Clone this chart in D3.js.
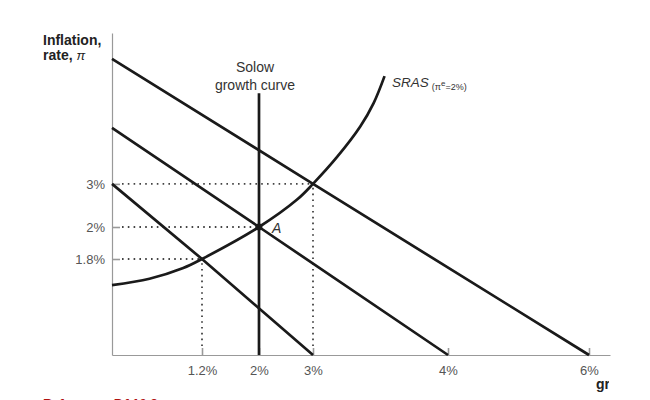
<!DOCTYPE html>
<html lang="en">
  <head>
    <meta charset="UTF-8" />
    <title>Solow growth curve and SRAS</title>
    <style>
      body {
        margin: 0;
        background: #fff;
      }
      svg text {
        font-family: "Liberation Sans", Arial, sans-serif;
      }
    </style>
  </head>
  <body>
    <div id="chart"></div>

    <script src="https://d3js.org/d3.v7.min.js"></script>
    <script>
      // growth rate g (%) on x, inflation pi (%) on y
      const gTicks = [1.2, 2, 3, 4, 6];
      const piTicks = [1.8, 2, 3];

      // aggregate demand type lines, as [g, pi] points
      const demandTop = [[0, 5.9], [3, 3], [6, 0]];
      const demandMid = [[0, 4.3], [2, 2], [4, 0]];
      const demandLow = [[0, 3], [1.2, 1.8], [3, 0]];

      const solowG = 2;
      const solowTop = 5.1;

      const srasCurve = [
        [0, 1.31], [0.5, 1.43], [0.95, 1.63], [1.2, 1.8], [2, 2],
        [2.7, 2.63], [3, 3], [3.18, 3.63], [3.35, 4.33], [3.45, 4.88], [3.53, 5.5],
      ];

      // dotted guides to the intersections
      const guides = [
        { g: 3, pi: 3 },
        { g: 2, pi: 2 },
        { g: 1.2, pi: 1.8 },
      ];

      const width = 650,
        height = 400;

      const svg = d3
        .select("#chart")
        .append("svg")
        .attr("width", width)
        .attr("height", height);

      // schematic axes: tick spacing is not proportional in the figure
      const x = d3
        .scaleLinear()
        .domain([0, 1.2, 2, 3, 4, 6, 6.3])
        .range([112, 202, 259, 313, 448, 589, 610]);
      const y = d3
        .scaleLinear()
        .domain([0, 1.8, 2, 6.5])
        .range([355, 259, 227, 33]);

      const ink = "#1a1a1a";

      // axes
      const xAxis = svg
        .append("g")
        .attr("transform", `translate(0,${y(0)})`)
        .call(
          d3
            .axisBottom(x)
            .tickValues(gTicks)
            .tickSize(-7)
            .tickSizeOuter(0)
            .tickPadding(11)
            .tickFormat((d) => d + "%")
        );
      const yAxis = svg
        .append("g")
        .attr("transform", `translate(${x(0)},0)`)
        .call(
          d3
            .axisLeft(y)
            .tickValues(piTicks)
            .tickSize(-8)
            .tickSizeOuter(0)
            .tickPadding(7)
            .tickFormat((d) => d + "%")
        );
      [xAxis, yAxis].forEach((a) => {
        a.select(".domain").attr("stroke", "#999").attr("stroke-width", 1.2);
        a.selectAll(".tick line").attr("stroke", "#999").attr("stroke-width", 1.6);
        a.selectAll(".tick text")
          .attr("fill", "#555")
          .style("font-size", "13px")
          .style("font-family", '"Liberation Sans", Arial, sans-serif');
      });

      // dotted guides
      const dots = svg.append("g").attr("stroke", "#444").attr("stroke-width", 1.8)
        .attr("stroke-dasharray", "1.6,4.2");
      dots.selectAll(".h")
        .data(guides)
        .enter()
        .append("line")
        .attr("x1", x(0) + 10)
        .attr("x2", (d) => x(d.g))
        .attr("y1", (d) => y(d.pi))
        .attr("y2", (d) => y(d.pi));
      dots.selectAll(".v")
        .data(guides.filter((d) => d.g !== solowG))
        .enter()
        .append("line")
        .attr("x1", (d) => x(d.g))
        .attr("x2", (d) => x(d.g))
        .attr("y1", y(0) - 9)
        .attr("y2", (d) => y(d.pi));

      // curves
      const line = d3.line().x((d) => x(d[0])).y((d) => y(d[1]));
      const smooth = d3.line().x((d) => x(d[0])).y((d) => y(d[1])).curve(d3.curveCatmullRom);

      svg.selectAll(".demand")
        .data([demandTop, demandMid, demandLow])
        .enter()
        .append("path")
        .attr("d", line)
        .attr("fill", "none")
        .attr("stroke", ink)
        .attr("stroke-width", 2.7);

      svg.append("path")
        .attr("d", smooth(srasCurve))
        .attr("fill", "none")
        .attr("stroke", ink)
        .attr("stroke-width", 2.7);

      svg.append("line")
        .attr("x1", x(solowG))
        .attr("x2", x(solowG))
        .attr("y1", y(0))
        .attr("y2", y(solowTop))
        .attr("stroke", ink)
        .attr("stroke-width", 2.7);

      // point A
      svg.append("circle")
        .attr("cx", x(2))
        .attr("cy", y(2))
        .attr("r", 3.4)
        .attr("fill", ink);
      svg.append("text")
        .attr("x", x(2) + 13)
        .attr("y", y(2) + 6)
        .attr("fill", "#333")
        .style("font-size", "14px")
        .style("font-style", "italic")
        .text("A");

      // labels
      const solowLabel = svg.append("text")
        .attr("text-anchor", "middle")
        .attr("fill", "#333")
        .style("font-size", "14px");
      solowLabel.append("tspan").attr("x", 255).attr("y", 72).text("Solow");
      solowLabel.append("tspan").attr("x", 255).attr("y", 90).text("growth curve");

      const sras = svg.append("text")
        .attr("x", 392)
        .attr("y", 87)
        .attr("fill", "#333")
        .style("font-size", "13.5px");
      sras.append("tspan").style("font-style", "italic").text("SRAS");
      sras.append("tspan").attr("dx", 3).attr("dy", 3).style("font-size", "9px").text("(π");
      sras.append("tspan").attr("dy", -4).style("font-size", "8px").text("e");
      sras.append("tspan").attr("dy", 4).style("font-size", "9px").text("=2%)");

      const yTitle = svg.append("text")
        .attr("fill", "#222")
        .style("font-size", "14px")
        .style("font-weight", "bold");
      yTitle.append("tspan").attr("x", 43).attr("y", 45).text("Inflation,");
      yTitle.append("tspan").attr("x", 43).attr("y", 60).text("rate, ");
      yTitle.append("tspan")
        .style("font-weight", "normal")
        .style("font-style", "italic")
        .style("font-size", "13px")
        .text("π");

      // x title is cut at the picture edge
      svg.append("clipPath")
        .attr("id", "cut")
        .append("rect")
        .attr("x", 0)
        .attr("y", 0)
        .attr("width", 609)
        .attr("height", height);
      svg.append("text")
        .attr("x", 596)
        .attr("y", 389)
        .attr("clip-path", "url(#cut)")
        .attr("fill", "#222")
        .style("font-size", "14px")
        .style("font-weight", "bold")
        .text("growth rate, g");

      svg.append("text")
        .attr("x", 43)
        .attr("y", 408)
        .attr("fill", "#b01010")
        .style("font-size", "13px")
        .style("font-weight", "bold")
        .text("Reference: P.f.10.9");
    </script>
  </body>
</html>
